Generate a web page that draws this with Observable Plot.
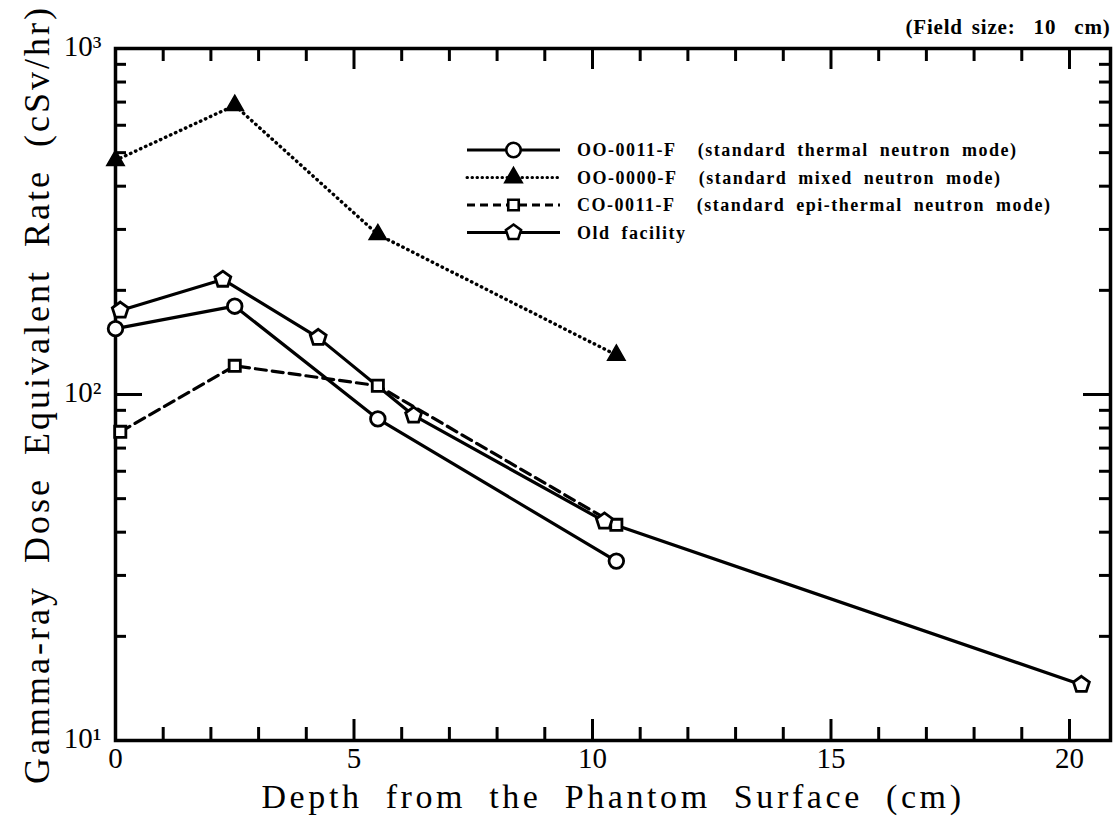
<!DOCTYPE html>
<html>
<head>
<meta charset="utf-8">
<script src="https://cdn.jsdelivr.net/npm/d3@7"></script>
<script src="https://cdn.jsdelivr.net/npm/@observablehq/plot@0.6"></script>
<style>
  html, body { margin: 0; padding: 0; background: #fff; }
  svg { display: block; }
</style>
</head>
<body>
<div id="chart"></div>
<script>
// ---- Data ----
const thermalDepth = [0, 2.5, 5.5, 10.5];
const thermalRate  = [155, 180, 85, 33];

const mixedDepth = [0, 2.5, 5.5, 10.5];
const mixedRate  = [475, 685, 290, 130];

const epiDepth = [0.1, 2.5, 5.5, 10.5];
const epiRate  = [78, 121, 106, 42];

const oldDepth = [0.1, 2.25, 4.25, 6.25, 10.25, 20.25];
const oldRate  = [175, 215, 146, 87, 43, 14.5];

const seriesNames = [
  "OO-0011-F  (standard thermal neutron mode)",
  "OO-0000-F  (standard mixed neutron mode)",
  "CO-0011-F  (standard epi-thermal neutron mode)",
  "Old facility"
];

const xTickLabels = [0, 5, 10, 15, 20];
const xMinorTicks = [1,2,3,4,6,7,8,9,11,12,13,14,16,17,18,19];
const xMajorTicks = [5,10,15,20];
const yTickLabels = [10, 100, 1000];
const yTickText = ["10\u00B9", "10\u00B2", "10\u00B3"];
const yMinorTicks = [20,30,40,50,60,70,80,90,200,300,400,500,600,700,800,900];
const yMajorTicks = [100];

const titleText = "(Field size:  10  cm)";
const xLabel = "Depth from the Phantom Surface (cm)";
const yLabel = "Gamma-ray Dose Equivalent Rate (cSv/hr)";

// ---- Build tables ----
const mk = (xs, ys, s) => xs.map((x, i) => ({depth: x, rate: ys[i], series: s}));
const thermal = mk(thermalDepth, thermalRate, seriesNames[0]);
const mixed = mk(mixedDepth, mixedRate, seriesNames[1]);
const epi = mk(epiDepth, epiRate, seriesNames[2]);
const old = mk(oldDepth, oldRate, seriesNames[3]);

const pentagon = {
  draw(context, size) {
    const r = Math.sqrt(size / 2.2);
    for (let i = 0; i < 5; i++) {
      const a = -Math.PI / 2 + i * 2 * Math.PI / 5;
      const px = r * Math.cos(a), py = r * Math.sin(a);
      if (i === 0) context.moveTo(px, py); else context.lineTo(px, py);
    }
    context.closePath();
  }
};

const W = 1117, H = 830;
const mL = 115, mR = 7, mT = 48, mB = 90;
const fw = W - mL - mR, fh = H - mT - mB;
const serif = "'Liberation Serif', 'DejaVu Serif', serif";

const lineStyle = {x: "depth", y: "rate", stroke: "#000", strokeWidth: 3.2};
const openDot = {x: "depth", y: "rate", stroke: "#000", strokeWidth: 2.8, fill: "#fff"};

const chart = Plot.plot({
  width: W, height: H,
  marginLeft: mL, marginRight: mR, marginTop: mT, marginBottom: mB,
  style: {fontFamily: serif, background: "#fff", color: "#000"},
  x: {domain: [0, 20.86], axis: null},
  y: {type: "log", domain: [10, 1000], axis: null},
  marks: [
    // ticks (inward) bottom & top
    Plot.tickX(xMinorTicks, {x: d => d, insetTop: fh - 13, stroke: "#000", strokeWidth: 3}),
    Plot.tickX(xMajorTicks, {x: d => d, insetTop: fh - 21, stroke: "#000", strokeWidth: 3}),
    Plot.tickX(xMinorTicks, {x: d => d, insetBottom: fh - 13, stroke: "#000", strokeWidth: 3}),
    Plot.tickX(xMajorTicks, {x: d => d, insetBottom: fh - 21, stroke: "#000", strokeWidth: 3}),
    // ticks left & right
    Plot.tickY(yMinorTicks, {y: d => d, insetRight: fw - 11, stroke: "#000", strokeWidth: 3}),
    Plot.tickY(yMajorTicks, {y: d => d, insetRight: fw - 27, stroke: "#000", strokeWidth: 3}),
    Plot.tickY(yMinorTicks, {y: d => d, insetLeft: fw - 11, stroke: "#000", strokeWidth: 3}),
    Plot.tickY(yMajorTicks, {y: d => d, insetLeft: fw - 27, stroke: "#000", strokeWidth: 3}),
    Plot.frame({stroke: "#000", strokeWidth: 3.5}),

    // tick labels
    Plot.text(xTickLabels, {x: d => d, frameAnchor: "bottom", dy: 27, text: d => String(d), fontSize: 29, fill: "#000"}),
    Plot.text(yTickLabels, {y: d => d, frameAnchor: "left", dx: -14, dy: -2, textAnchor: "end", text: (d, i) => yTickText[i], fontSize: 29, fill: "#000"}),

    // axis labels
    Plot.text([xLabel], {className: "xlab", frameAnchor: "bottom", dy: 67, textAnchor: "middle", text: d => d, fontSize: 34, fill: "#000"}),
    Plot.text([yLabel], {className: "ylab", frameAnchor: "left", dx: -78, rotate: -90, textAnchor: "middle", text: d => d, fontSize: 36, fill: "#000"}),
    Plot.text([titleText], {className: "title", frameAnchor: "top-right", dy: -29, textAnchor: "end", text: d => d, fontSize: 21, fontWeight: "bold", fill: "#000"}),

    // series lines
    Plot.line(mixed, {...lineStyle, strokeWidth: 3.4, strokeDasharray: "0.5,5", strokeLinecap: "round"}),
    Plot.line(epi, {...lineStyle, strokeDasharray: "11,6"}),
    Plot.line(thermal, lineStyle),
    Plot.line(old, lineStyle),

    // markers
    Plot.dot(mixed, {x: "depth", y: "rate", symbol: "triangle", r: 6.5, fill: "#000", stroke: "#000"}),
    Plot.dot(epi, {...openDot, symbol: "square", r: 6.3}),
    Plot.dot(thermal, {...openDot, symbol: "circle", r: 7.3}),
    Plot.dot(old, {...openDot, symbol: pentagon, r: 7}),
  ]
});

const svg = d3.select(chart);
svg.selectAll("text").attr("xml:space", "preserve").style("white-space", "pre");
svg.selectAll(".xlab text").style("letter-spacing", "3.6px").style("word-spacing", "11px");
svg.selectAll(".ylab text").style("letter-spacing", "3px").style("word-spacing", "10px");
svg.selectAll(".title text").style("letter-spacing", "0.8px").style("word-spacing", "3px");

// ---- Legend (drawn inside the SVG) ----
const legendX = 467, legendY = 150, rowH = 27.5, sampleW = 93;
const legendSpecs = [
  {dash: null, sym: d3.symbolCircle, size: 165, fill: "#fff"},
  {dash: "0.5,4.5", sym: d3.symbolTriangle, size: 110, fill: "#000"},
  {dash: "8,5", sym: d3.symbolSquare, size: 110, fill: "#fff"},
  {dash: null, sym: pentagon, size: 140, fill: "#fff"}
];
const lg = svg.append("g").attr("class", "legend");
legendSpecs.forEach((s, i) => {
  const y = legendY + i * rowH;
  const ln = lg.append("line")
    .attr("x1", legendX).attr("x2", legendX + sampleW)
    .attr("y1", y).attr("y2", y)
    .attr("stroke", "#000").attr("stroke-width", i === 1 ? 3 : 2.8);
  if (s.dash) ln.attr("stroke-dasharray", s.dash).attr("stroke-linecap", i === 1 ? "round" : "butt");
  lg.append("path")
    .attr("d", d3.symbol(s.sym, s.size)())
    .attr("transform", `translate(${legendX + sampleW / 2},${y})`)
    .attr("fill", s.fill).attr("stroke", "#000").attr("stroke-width", 2.6);
  lg.append("text")
    .attr("x", legendX + sampleW + 17).attr("y", y)
    .attr("dy", "0.35em")
    .attr("text-anchor", "start")
    .attr("xml:space", "preserve")
    .style("white-space", "pre")
    .attr("font-family", serif).attr("font-size", 18).attr("font-weight", "bold")
    .style("letter-spacing", "1.5px").style("word-spacing", "5px")
    .attr("fill", "#000")
    .text(seriesNames[i]);
});

document.getElementById("chart").appendChild(chart);
</script>
</body>
</html>
